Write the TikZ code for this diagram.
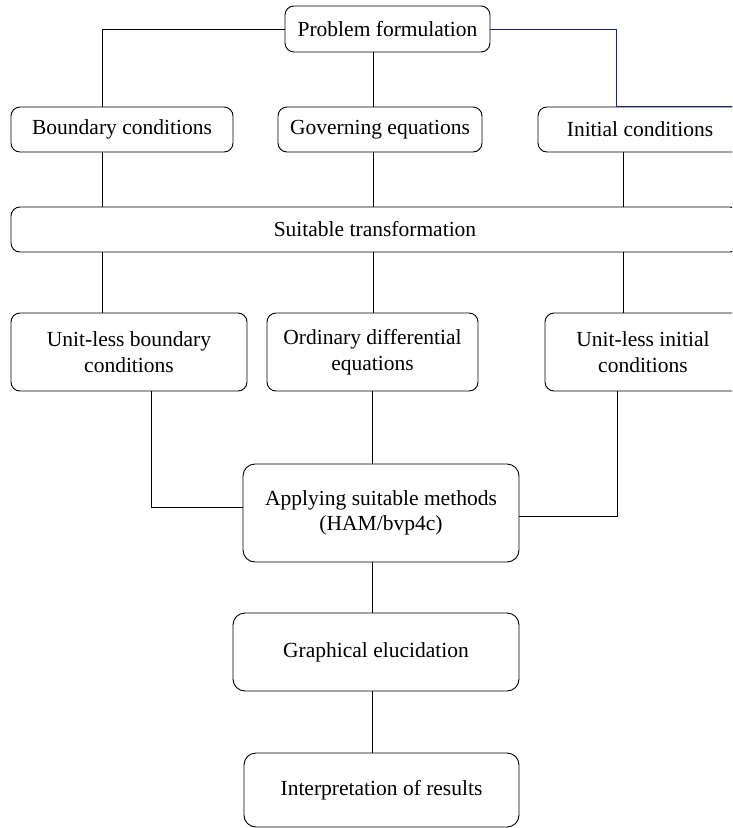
\documentclass[tikz,border=0pt]{standalone}
\usepackage{fontspec}
\setmainfont{Liberation Serif}
\definecolor{navyline}{RGB}{30,35,110}
\begin{document}
\begin{tikzpicture}[x=1pt,y=-1pt,
  box/.style={draw, line width=0.9pt, rounded corners=9pt, inner sep=0pt, align=center,
    font=\fontsize{21.5}{25.5}\selectfont},
  link/.style={draw, line width=0.9pt}]
\clip (0,0) rectangle (732,828);
\fill[white] (0,0) rectangle (732,828);
% row 1
\node[box, minimum width=205, minimum height=46] (pf) at (387.5,29) {Problem formulation};
% row 2
\node[box, minimum width=222, minimum height=45] (bc) at (122,129.5) {Boundary conditions};
\node[box, minimum width=204, minimum height=45] (ge) at (380,129.5) {Governing equations};
\node[box, minimum width=204, minimum height=45] (ic) at (640,129.5) {Initial conditions};
% row 3
\node[box, minimum width=728, minimum height=45] (st) at (375,229.5) {Suitable transformation};
% row 4
\node[box, minimum width=236, minimum height=78] (ub) at (129,352) {Unit-less boundary\\conditions};
\node[box, minimum width=211, minimum height=78] (od) at (372.5,352) {Ordinary differential\\equations};
\node[box, minimum width=196, minimum height=78] (ui) at (643,352) {Unit-less initial\\conditions};
% lower
\node[box, minimum width=276, minimum height=98, rounded corners=12pt] (ap) at (381,513) {Applying suitable methods\\(HAM/bvp4c)};
\node[box, minimum width=286, minimum height=78, rounded corners=12pt] (gr) at (376,652) {Graphical elucidation};
\node[box, minimum width=275, minimum height=74, rounded corners=12pt] (ir) at (381.5,790) {Interpretation of results};

% connectors from problem formulation
\draw[link] (pf.west) -| ([xshift=-20pt]bc.north);
\draw[link] ([xshift=-14.5pt]pf.south) -- ([xshift=-7pt]ge.north);
\draw[link, draw=navyline] (pf.east) -| ([xshift=-24pt]ic.north) -- ([xshift=20pt]ic.north east);
% row 2 to suitable transformation
\draw[link] ([xshift=-20pt]bc.south) -- ([xshift=-20pt]bc.south |- st.north);
\draw[link] ([xshift=-7pt]ge.south) -- ([xshift=-7pt]ge.south |- st.north);
\draw[link] ([xshift=-17pt]ic.south) -- ([xshift=-17pt]ic.south |- st.north);
% suitable transformation to row 4
\draw[link] ([xshift=-20pt]bc.south |- st.south) -- ([xshift=-20pt]bc.south |- ub.north);
\draw[link] ([xshift=-7pt]ge.south |- st.south) -- ([xshift=-7pt]ge.south |- od.north);
\draw[link] ([xshift=-17pt]ic.south |- st.south) -- ([xshift=-17pt]ic.south |- ui.north);
% row 4 to applying
\draw[link] ([xshift=22pt]ub.south) |- ([yshift=6pt]ap.west);
\draw[link] (od.south) -- (od.south |- ap.north);
\draw[link] ([xshift=-26pt]ui.south) |- ([yshift=-3pt]ap.east);
% lower chain
\draw[link] (od.south |- ap.south) -- (od.south |- gr.north);
\draw[link] (od.south |- gr.south) -- (od.south |- ir.north);
\end{tikzpicture}
\end{document}
